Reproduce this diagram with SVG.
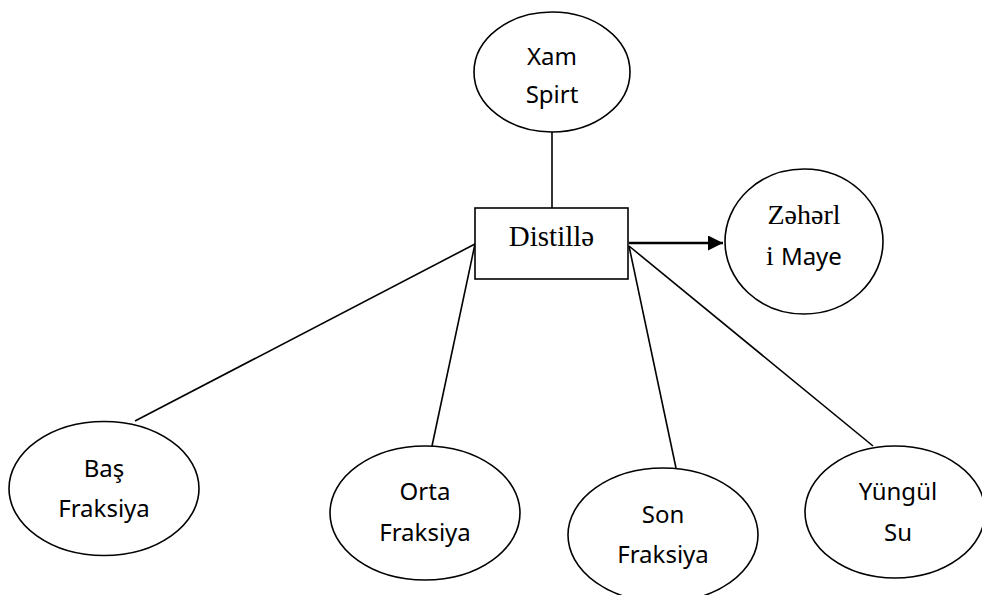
<svg xmlns="http://www.w3.org/2000/svg" width="982" height="595" viewBox="0 0 982 595">
  <defs>
    <marker id="arrow" markerWidth="15" markerHeight="15" refX="15" refY="7.5" orient="auto" markerUnits="userSpaceOnUse">
      <path d="M0,0 L15,7.5 L0,15 Z" fill="#000"/>
    </marker>
  </defs>
  <style>
    .node ellipse, .node rect { fill: #fff; stroke: #000; stroke-width: 1.6; }
    .conn line { stroke: #000; stroke-width: 1.6; }
    .sans { font-family: "Noto Sans", "Open Sans", sans-serif; font-size: 24px; fill: #000; text-anchor: middle; }
    .serif { font-family: "Liberation Serif", "Times New Roman", serif; fill: #000; }
  </style>
  <rect width="982" height="595" fill="#fff"/>
  <g id="connectors" class="conn">
    <line x1="552" y1="132" x2="552" y2="208"/>
    <line x1="475" y1="244" x2="135" y2="421"/>
    <line x1="475" y1="244" x2="432" y2="446"/>
    <line x1="629" y1="246" x2="676" y2="468"/>
    <line x1="629" y1="246" x2="873" y2="446"/>
    <line x1="629" y1="243" x2="723" y2="243" stroke-width="2.4" style="stroke-width:2.4" marker-end="url(#arrow)"/>
  </g>
  <g id="xam-spirt" class="node">
    <ellipse cx="552" cy="72" rx="78" ry="60"/>
    <text class="sans" x="552" y="65">Xam</text>
    <text class="sans" x="552" y="103">Spirt</text>
  </g>
  <g id="distille" class="node">
    <rect x="475" y="208" width="153" height="71"/>
    <text class="serif" x="551.5" y="246" font-size="29" text-anchor="middle">Distillə</text>
  </g>
  <g id="zeherli-maye" class="node">
    <ellipse cx="804" cy="241.5" rx="79" ry="72.5"/>
    <text class="serif" x="804" y="224" font-size="28" text-anchor="middle">Zəhərl</text>
    <text x="804" y="265" text-anchor="middle" font-size="24"><tspan class="serif" font-size="28">i </tspan><tspan font-family="Noto Sans, Open Sans, sans-serif">Maye</tspan></text>
  </g>
  <g id="bas-fraksiya" class="node">
    <ellipse cx="104" cy="488.5" rx="95" ry="67"/>
    <text class="sans" x="104" y="477">Baş</text>
    <text class="sans" x="104" y="517">Fraksiya</text>
  </g>
  <g id="orta-fraksiya" class="node">
    <ellipse cx="425" cy="513" rx="95" ry="67"/>
    <text class="sans" x="425" y="500">Orta</text>
    <text class="sans" x="425" y="541">Fraksiya</text>
  </g>
  <g id="son-fraksiya" class="node">
    <ellipse cx="663" cy="535" rx="95" ry="67"/>
    <text class="sans" x="663" y="523">Son</text>
    <text class="sans" x="663" y="563">Fraksiya</text>
  </g>
  <g id="yungul-su" class="node">
    <ellipse cx="895" cy="512" rx="90" ry="66"/>
    <text class="sans" x="898" y="500">Yüngül</text>
    <text class="sans" x="898" y="541">Su</text>
  </g>
</svg>
